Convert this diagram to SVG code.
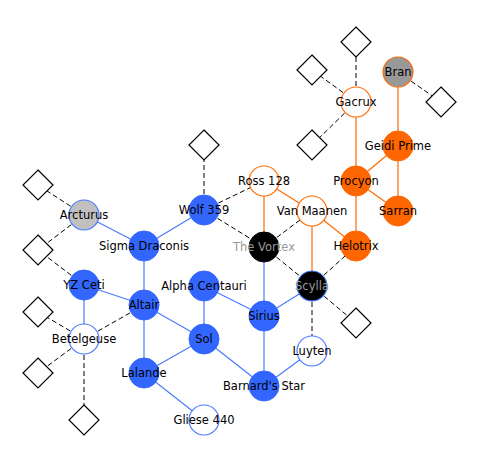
<svg xmlns="http://www.w3.org/2000/svg" width="477" height="458" viewBox="0 0 477 458">
<style>
.b{stroke:#4a7bff;stroke-width:1.2;fill:none}
.o{stroke:#ff6a00;stroke-width:1.2;fill:none}
.d{stroke:#000;stroke-width:1;stroke-dasharray:5,3;fill:none}
.nb{fill:#3366ff;stroke:#3366ff;stroke-width:1}
.nw{fill:#fff;stroke:#4a7bff;stroke-width:1.2}
.nwo{fill:#fff;stroke:#ff6a00;stroke-width:1.2}
.no{fill:#ff6600;stroke:#ff6600;stroke-width:1}
.dm{fill:#fff;stroke:#000;stroke-width:1.2}
text{font-family:"DejaVu Sans",sans-serif;font-size:11.5px;fill:#000;text-anchor:middle}
.g{fill:#999}
</style>
<rect width="477" height="458" fill="#fff"/>
<g id="connectors">
<line class="b" x1="84" y1="215" x2="144" y2="246"/>
<line class="b" x1="144" y1="246" x2="204" y2="210"/>
<line class="b" x1="144" y1="246" x2="144" y2="305"/>
<line class="b" x1="84" y1="285" x2="144" y2="305"/>
<line class="b" x1="84" y1="285" x2="84" y2="339"/>
<line class="b" x1="144" y1="305" x2="144" y2="373"/>
<line class="b" x1="144" y1="305" x2="204" y2="339"/>
<line class="b" x1="204" y1="286" x2="204" y2="339"/>
<line class="b" x1="204" y1="286" x2="264" y2="316"/>
<line class="b" x1="204" y1="339" x2="144" y2="373"/>
<line class="b" x1="204" y1="339" x2="264" y2="386"/>
<line class="b" x1="144" y1="373" x2="204" y2="420"/>
<line class="b" x1="264" y1="316" x2="264" y2="386"/>
<line class="b" x1="264" y1="316" x2="312" y2="286"/>
<line class="b" x1="264" y1="247" x2="264" y2="316"/>
<line class="b" x1="264" y1="386" x2="312" y2="351"/>
<line class="o" x1="264" y1="181" x2="264" y2="247"/>
<line class="o" x1="264" y1="181" x2="312" y2="211"/>
<line class="o" x1="312" y1="211" x2="356" y2="246"/>
<line class="o" x1="312" y1="211" x2="312" y2="286"/>
<line class="o" x1="356" y1="102" x2="356" y2="181"/>
<line class="o" x1="356" y1="181" x2="398" y2="146"/>
<line class="o" x1="356" y1="181" x2="398" y2="211"/>
<line class="o" x1="356" y1="181" x2="356" y2="246"/>
<line class="o" x1="398" y1="72" x2="398" y2="146"/>
<line class="o" x1="398" y1="146" x2="398" y2="211"/>
<line class="d" x1="84" y1="215" x2="38" y2="185"/>
<line class="d" x1="84" y1="215" x2="38" y2="250"/>
<line class="d" x1="84" y1="285" x2="38" y2="250"/>
<line class="d" x1="84" y1="339" x2="38" y2="312"/>
<line class="d" x1="84" y1="339" x2="38" y2="373"/>
<line class="d" x1="84" y1="339" x2="84" y2="420"/>
<line class="d" x1="84" y1="339" x2="144" y2="305"/>
<line class="d" x1="204" y1="210" x2="204" y2="145"/>
<line class="d" x1="204" y1="210" x2="264" y2="181"/>
<line class="d" x1="204" y1="210" x2="264" y2="247"/>
<line class="d" x1="264" y1="247" x2="312" y2="211"/>
<line class="d" x1="264" y1="247" x2="312" y2="286"/>
<line class="d" x1="312" y1="286" x2="356" y2="246"/>
<line class="d" x1="312" y1="286" x2="312" y2="351"/>
<line class="d" x1="312" y1="286" x2="356" y2="323"/>
<line class="d" x1="356" y1="102" x2="356" y2="42"/>
<line class="d" x1="356" y1="102" x2="312" y2="70"/>
<line class="d" x1="356" y1="102" x2="312" y2="145"/>
<line class="d" x1="398" y1="72" x2="441" y2="102"/>
</g>
<g id="diamonds">
<polygon id="d1" class="dm" points="38,170 53,185 38,200 23,185"/>
<polygon id="d2" class="dm" points="38,235 53,250 38,265 23,250"/>
<polygon id="d3" class="dm" points="38,297 53,312 38,327 23,312"/>
<polygon id="d4" class="dm" points="38,358 53,373 38,388 23,373"/>
<polygon id="d5" class="dm" points="84,405 99,420 84,435 69,420"/>
<polygon id="d6" class="dm" points="204,130 219,145 204,160 189,145"/>
<polygon id="d7" class="dm" points="312,130 327,145 312,160 297,145"/>
<polygon id="d8" class="dm" points="312,55 327,70 312,85 297,70"/>
<polygon id="d9" class="dm" points="356,27 371,42 356,57 341,42"/>
<polygon id="d10" class="dm" points="441,87 456,102 441,117 426,102"/>
<polygon id="d11" class="dm" points="356,308 371,323 356,338 341,323"/>
</g>
<g id="arcturus"><circle cx="84" cy="215" r="15" fill="#c0c0c0" stroke="#4a7bff" stroke-width="1.2"/><text x="84" y="219">Arcturus</text></g>
<g id="sigma-draconis"><circle class="nb" cx="144" cy="246" r="15"/><text x="144" y="250">Sigma Draconis</text></g>
<g id="wolf-359"><circle class="nb" cx="204" cy="210" r="15"/><text x="204" y="214">Wolf 359</text></g>
<g id="yz-ceti"><circle class="nb" cx="84" cy="285" r="15"/><text x="84" y="289">YZ Ceti</text></g>
<g id="altair"><circle class="nb" cx="144" cy="305" r="15"/><text x="144" y="309">Altair</text></g>
<g id="alpha-centauri"><circle class="nb" cx="204" cy="286" r="15"/><text x="204" y="290">Alpha Centauri</text></g>
<g id="betelgeuse"><circle class="nw" cx="84" cy="339" r="15"/><text x="84" y="343">Betelgeuse</text></g>
<g id="sol"><circle class="nb" cx="204" cy="339" r="15"/><text x="204" y="343">Sol</text></g>
<g id="lalande"><circle class="nb" cx="144" cy="373" r="15"/><text x="144" y="377">Lalande</text></g>
<g id="gliese-440"><circle class="nw" cx="204" cy="420" r="15"/><text x="204" y="424">Gliese 440</text></g>
<g id="sirius"><circle class="nb" cx="264" cy="316" r="15"/><text x="264" y="320">Sirius</text></g>
<g id="barnards-star"><circle class="nb" cx="264" cy="386" r="15"/><text x="264" y="390">Barnard's Star</text></g>
<g id="luyten"><circle class="nw" cx="312" cy="351" r="15"/><text x="312" y="355">Luyten</text></g>
<g id="ross-128"><circle class="nwo" cx="264" cy="181" r="15"/><text x="264" y="185">Ross 128</text></g>
<g id="van-maanen"><circle class="nwo" cx="312" cy="211" r="15"/><text x="312" y="215">Van Maanen</text></g>
<g id="the-vortex"><circle cx="264" cy="247" r="15" fill="#000" stroke="#000"/><text class="g" x="264" y="251">The Vortex</text></g>
<g id="scylla"><circle cx="312" cy="286" r="15" fill="#000" stroke="#4a7bff" stroke-width="1.2"/><text class="g" x="312" y="290">Scylla</text></g>
<g id="helotrix"><circle class="no" cx="356" cy="246" r="15"/><text x="356" y="250">Helotrix</text></g>
<g id="procyon"><circle class="no" cx="356" cy="181" r="15"/><text x="356" y="185">Procyon</text></g>
<g id="sarran"><circle class="no" cx="398" cy="211" r="15"/><text x="398" y="215">Sarran</text></g>
<g id="geidi-prime"><circle class="no" cx="398" cy="146" r="15"/><text x="398" y="150">Geidi Prime</text></g>
<g id="gacrux"><circle class="nwo" cx="356" cy="102" r="15"/><text x="356" y="106">Gacrux</text></g>
<g id="bran"><circle cx="398" cy="72" r="15" fill="#999" stroke="#ff6a00" stroke-width="1.2"/><text x="398" y="76">Bran</text></g>
</svg>
